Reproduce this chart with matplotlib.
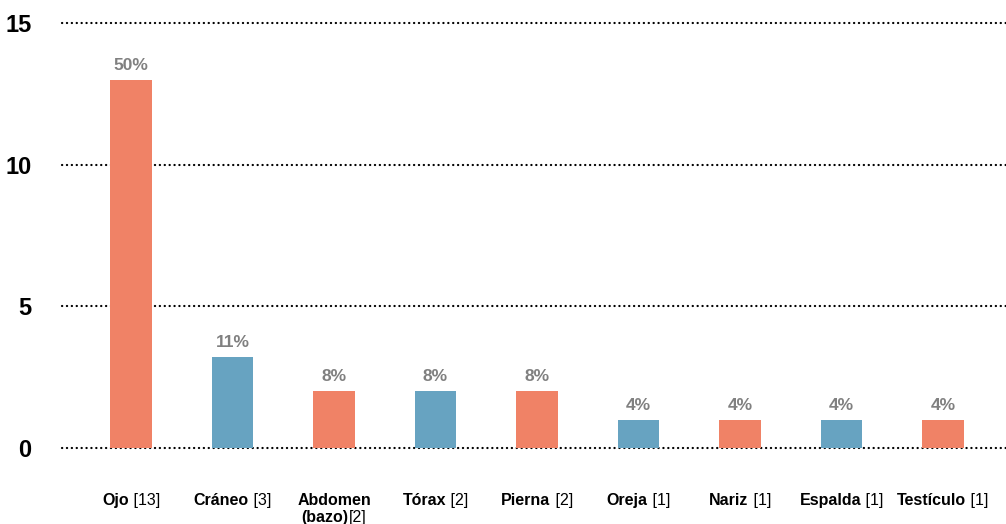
import matplotlib.pyplot as plt
from matplotlib.transforms import IdentityTransform

plt.rcParams['font.family'] = ['Liberation Sans', 'DejaVu Sans']

# datos
partes = ['Ojo', 'Cráneo', 'Abdomen\n(bazo)', 'Tórax', 'Pierna', 'Oreja', 'Nariz', 'Espalda', 'Testículo']
casos = [13, 3, 2, 2, 2, 1, 1, 1, 1]
alturas = [13, 3.2, 2, 2, 2, 1, 1, 1, 1]
porcentajes = ['50%', '11%', '8%', '8%', '8%', '4%', '4%', '4%', '4%']
colores = ['#F08266', '#67A3C1', '#F08266', '#67A3C1', '#F08266', '#67A3C1', '#F08266', '#67A3C1', '#F08266']

W, H = 1006, 524
fig = plt.figure(figsize=(W / 100, H / 100), dpi=100)
ax = fig.add_axes([62 / W, (H - 448) / H, (W - 62) / W, 425 / H])

x = list(range(len(partes)))
ax.bar(x, alturas, width=0.41, color=colores, zorder=3)
ax.set_xlim(-0.68, 8.62)
ax.set_ylim(0, 15)

for v in [0, 5, 10, 15]:
    ax.axhline(v, color='black', lw=1.6, linestyle=(0, (0.1, 2.1)),
               dash_capstyle='round', clip_on=False, zorder=2)

ax.set_yticks([0, 5, 10, 15])
ax.set_yticklabels(['0', '5', '10', '15'], fontsize=17, fontweight='bold')
ax.tick_params(axis='y', length=0, pad=22)
ax.set_xticks([])
for s in ax.spines.values():
    s.set_visible(False)

for i, (h, p) in enumerate(zip(alturas, porcentajes)):
    ax.annotate(p, (i, h), xytext=(0, 5), textcoords='offset points',
                ha='center', va='bottom', fontsize=12.5, fontweight='bold', color='#808080')

# etiquetas: nombre en negrita + [n] normal, centradas
fig.canvas.draw()
rend = fig.canvas.get_renderer()


def etiqueta(xc, y, negrita, normal):
    t1 = fig.text(0, y, negrita, transform=IdentityTransform(), fontsize=11.5, fontweight='bold', ha='left')
    t2 = fig.text(0, y, normal, transform=IdentityTransform(), fontsize=11.5, ha='left')
    w1 = t1.get_window_extent(rend).width
    w2 = t2.get_window_extent(rend).width
    x0 = xc - (w1 + w2) / 2
    t1.set_x(x0)
    t2.set_x(x0 + w1)


for i, (nombre, n) in enumerate(zip(partes, casos)):
    xc = ax.transData.transform((i, 0))[0]
    lineas = nombre.split('\n')
    if len(lineas) == 1:
        etiqueta(xc, H - 505, lineas[0], ' [%d]' % n)
    else:
        etiqueta(xc, H - 505, lineas[0], '')
        etiqueta(xc, H - 522, lineas[1], '[%d]' % n)

fig.savefig('out.png', dpi=100)
